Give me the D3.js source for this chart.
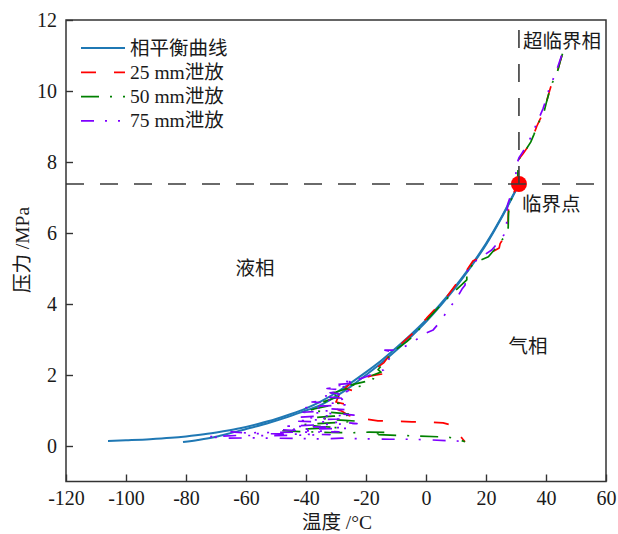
<!DOCTYPE html>
<html>
<head>
<meta charset="utf-8">
<script src="https://cdn.jsdelivr.net/npm/d3@7"></script>
<style>
  html, body { margin: 0; padding: 0; background: #fff; }
  svg { display: block; }
  text { fill: #1a1a1a; }
</style>
</head>
<body>
<svg id="chart" width="618" height="534"></svg>
<script>
// Axis ticks
const xTicks = [-120, -100, -80, -60, -40, -20, 0, 20, 40, 60];
const yTicks = [0, 2, 4, 6, 8, 10, 12];

// Legend entries
const legendLabels = ["相平衡曲线", "25 mm泄放", "50 mm泄放", "75 mm泄放"];

// CO2 critical point [°C, MPa]
const criticalPoint = [30.98, 7.38];

// Phase-equilibrium curves [temperature °C, pressure MPa]
const equilibriumA = [
  [-106, 0.14], [-100, 0.16], [-92, 0.19], [-85, 0.23], [-80, 0.27], [-74, 0.33],
  [-68, 0.41], [-62, 0.5], [-56, 0.62], [-50, 0.76], [-45, 0.9], [-40, 1.06],
  [-35, 1.26], [-30, 1.5], [-25, 1.78], [-20, 2.08], [-15, 2.4], [-10, 2.76],
  [-5, 3.14], [0, 3.55], [5, 4.02], [10, 4.52], [15, 5.08], [20, 5.7],
  [25, 6.42], [28, 6.9], [31, 7.38]
];
const equilibriumB = [
  [-81, 0.11], [-76, 0.17], [-70, 0.26], [-64, 0.39], [-58, 0.52], [-52, 0.66],
  [-46, 0.82], [-40, 1.0], [-36, 1.12], [-30, 1.4], [-25, 1.68], [-20, 2.0],
  [-15, 2.33], [-10, 2.69], [-5, 3.08], [0, 3.5], [5, 3.97], [10, 4.48],
  [15, 5.05], [20, 5.67], [25, 6.4], [28, 6.88], [31, 7.38]
];

// Measured release paths [temperature °C, pressure MPa]
const release25 = [
  [45.3, 11.0], [44.6, 10.8], [43.8, 10.55], [42.8, 10.3], [41.9, 10.2], [41, 9.95],
  [40, 9.65], [39.1, 9.37], [38, 9.2], [36.9, 9.0], [35.8, 8.75], [34.7, 8.53],
  [33.5, 8.37], [32.4, 8.24], [31.5, 8.14], [30.8, 8.06], [30.6, 7.87], [30.5, 7.6],
  [30.2, 7.4], [29.4, 7.15], [28.4, 6.95], [27.6, 6.8], [27.4, 6.5], [27.3, 6.1],
  [26.3, 5.92], [24.7, 5.7], [24.4, 5.58], [21, 5.42], [18, 5.3], [15.7, 5.22],
  [13, 4.88], [10.2, 4.58], [6.9, 4.2], [3, 3.85], [0.2, 3.6], [-4, 3.2],
  [-8, 2.9], [-12, 2.58], [-14, 2.35], [-16.4, 2.2], [-13, 2.05], [-18, 1.98],
  [-23, 1.86], [-25.3, 1.75], [-27, 1.62], [-24, 1.55], [-29, 1.42], [-30, 1.24],
  [-27, 1.18], [-31, 1.08], [-28, 0.98], [-26, 0.87], [-22.7, 0.79], [-16, 0.71],
  [-11, 0.7], [-4.7, 0.68], [0.3, 0.68], [5.7, 0.65], [8, 0.6], [9, 0.5],
  [10.3, 0.37], [12, 0.22], [13, 0.12]
];
const release50 = [
  [45.5, 11.05], [44.8, 10.85], [44, 10.6], [43, 10.35], [42.2, 10.25], [41.2, 10.0],
  [40.2, 9.7], [39.3, 9.4], [38.2, 9.22], [37.1, 9.02], [36, 8.78], [34.9, 8.56],
  [33.7, 8.4], [32.6, 8.27], [31.6, 8.16], [31, 8.08], [30.7, 7.9], [30.6, 7.62],
  [30.3, 7.42], [29.6, 7.2], [28.6, 6.98], [27.8, 6.82], [27.5, 6.55], [27.4, 6.15],
  [26.3, 5.94], [25, 5.75], [22, 5.45], [20.8, 5.33], [15.8, 5.15], [13.6, 4.87],
  [13.6, 4.68], [12, 4.55], [9, 4.32], [5, 3.98], [0, 3.52], [-4.2, 3.1],
  [-6.4, 2.94], [-10, 2.72], [-14, 2.35], [-16, 2.15], [-15, 2.08], [-17.6, 2.0],
  [-19.8, 1.95], [-17, 1.88], [-21, 1.8], [-25, 1.72], [-21, 1.7], [-27, 1.6],
  [-30, 1.52], [-33, 1.47], [-27.6, 1.4], [-31, 1.34], [-34, 1.25], [-29, 1.2],
  [-33, 1.12], [-37, 1.05], [-39, 1.0], [-33, 0.96], [-28, 0.92], [-24, 0.88],
  [-31, 0.84], [-37, 0.8], [-32, 0.75], [-27, 0.72], [-23, 0.7], [-30, 0.66],
  [-36, 0.63], [-41, 0.6], [-35, 0.55], [-29, 0.52], [-38, 0.49], [-44, 0.46],
  [-48, 0.43], [-40, 0.4], [-32, 0.38], [-25, 0.37], [-19, 0.39], [-13, 0.38],
  [-18, 0.33], [-10, 0.3], [-2, 0.28], [4, 0.26], [8, 0.24], [11, 0.18], [13, 0.12]
];
const release75 = [
  [45.2, 11.0], [44, 10.7], [43, 10.45], [41.9, 10.25], [41, 10.05], [40, 9.75],
  [39, 9.5], [38, 9.3], [37, 9.12], [36, 8.9], [35, 8.7], [34, 8.55],
  [33, 8.38], [32, 8.25], [31, 8.12], [30.3, 7.95], [30, 7.7], [29.8, 7.45],
  [29, 7.2], [28, 7.0], [27.2, 6.8], [27, 6.5], [26.8, 6.15], [26, 5.95],
  [24.7, 5.8], [21.9, 5.52], [16.9, 5.24], [13.5, 4.9], [13, 4.53], [12, 4.42],
  [10.2, 4.16], [6.9, 3.78], [4.7, 3.5], [2.4, 3.27], [-0.3, 3.17], [-4.2, 2.94],
  [-5.9, 2.85], [-9.8, 2.7], [-13.7, 2.7], [-11, 2.65], [-13, 2.35], [-14.2, 2.14],
  [-16, 2.1], [-20, 1.95], [-25, 1.8], [-28, 1.84], [-23, 1.78], [-31, 1.72],
  [-26, 1.68], [-33, 1.62], [-28, 1.58], [-24, 1.55], [-32, 1.5], [-27, 1.45],
  [-35, 1.4], [-30, 1.36], [-26, 1.33], [-34, 1.28], [-38, 1.24], [-30, 1.2],
  [-27, 1.16], [-36, 1.12], [-40, 1.08], [-32, 1.05], [-26, 1.02], [-35, 0.98],
  [-41, 0.95], [-33, 0.92], [-28, 0.9], [-24, 0.87], [-36, 0.84], [-42, 0.81],
  [-34, 0.78], [-29, 0.76], [-38, 0.73], [-44, 0.7], [-35, 0.68], [-27, 0.66],
  [-23, 0.63], [-33, 0.61], [-40, 0.58], [-46, 0.56], [-37, 0.54], [-30, 0.52],
  [-26, 0.5], [-38, 0.48], [-48, 0.46], [-42, 0.43], [-34, 0.42], [-29, 0.4],
  [-41, 0.39], [-52, 0.38], [-60, 0.37], [-65, 0.4], [-57, 0.35], [-47, 0.34],
  [-39, 0.33], [-32, 0.32], [-44, 0.3], [-55, 0.29], [-62, 0.3], [-70, 0.27],
  [-73, 0.26], [-66, 0.22], [-58, 0.23], [-50, 0.22], [-42, 0.21], [-35, 0.2],
  [-28, 0.22], [-20, 0.2], [-12, 0.19], [-5, 0.19], [2, 0.17], [7, 0.15],
  [13.6, 0.13]
];

const svg = d3.select("#chart");
const plotLeft = 66, plotRight = 606, plotTop = 20, plotBottom = 481.5;

const x = d3.scaleLinear().domain([-120, 60]).range([plotLeft, plotRight]);
const y = d3.scaleLinear().domain([-1, 12]).range([plotBottom, plotTop]);

const tickFont = "'Liberation Serif', 'Times New Roman', serif";
const labelFont = "'Liberation Serif', 'Noto Sans CJK SC', serif";

// Clip for plotted data
svg.append("defs").append("clipPath").attr("id", "plot-clip")
  .append("rect").attr("x", plotLeft).attr("y", plotTop)
  .attr("width", plotRight - plotLeft).attr("height", plotBottom - plotTop);

const plot = svg.append("g").attr("clip-path", "url(#plot-clip)");

// Phase-equilibrium curves
const smoothLine = d3.line().x(d => x(d[0])).y(d => y(d[1])).curve(d3.curveMonotoneX);
[equilibriumA, equilibriumB].forEach(data => {
  plot.append("path").datum(data)
    .attr("d", smoothLine)
    .attr("fill", "none").attr("stroke", "#1f78b4").attr("stroke-width", 2);
});

// Release paths
const seriesStyle = [
  { data: release25, color: "#ff0000", dash: "15,18" },
  { data: release50, color: "#008000", dash: "18,11,2,11" },
  { data: release75, color: "#7f00ff", dash: "13,11,2,11,2,12" }
];
const pathLine = d3.line().x(d => x(d[0])).y(d => y(d[1]));
seriesStyle.forEach(s => {
  plot.append("path").datum(s.data)
    .attr("d", pathLine)
    .attr("fill", "none").attr("stroke", s.color)
    .attr("stroke-width", 1.7).attr("stroke-dasharray", s.dash)
    .attr("stroke-linejoin", "round");
});

// Critical point marker
plot.append("circle")
  .attr("cx", x(criticalPoint[0])).attr("cy", y(criticalPoint[1]))
  .attr("r", 8).attr("fill", "#ff0000");

// Critical isobar and isotherm
const refStroke = "#3a3a3a";
plot.append("line")
  .attr("x1", x(-120)).attr("x2", x(60))
  .attr("y1", y(criticalPoint[1])).attr("y2", y(criticalPoint[1]))
  .attr("stroke", refStroke).attr("stroke-width", 1.6).attr("stroke-dasharray", "18,16");
plot.append("line")
  .attr("x1", x(criticalPoint[0])).attr("x2", x(criticalPoint[0]))
  .attr("y1", y(criticalPoint[1])).attr("y2", y(12))
  .attr("stroke", refStroke).attr("stroke-width", 1.6).attr("stroke-dasharray", "18,16");

// Axes
const xAxis = d3.axisBottom(x).tickValues(xTicks).tickFormat(d => String(d))
  .tickSizeInner(-7).tickSizeOuter(0).tickPadding(9);
const yAxis = d3.axisLeft(y).tickValues(yTicks).tickFormat(d => String(d))
  .tickSizeInner(-7).tickSizeOuter(0).tickPadding(9);

const gx = svg.append("g").attr("transform", `translate(0,${plotBottom})`).call(xAxis);
const gy = svg.append("g").attr("transform", `translate(${plotLeft},0)`).call(yAxis);
[gx, gy].forEach(g => {
  g.select(".domain").remove();
  g.selectAll(".tick line").attr("stroke", "#333").attr("stroke-width", 1.4);
  g.selectAll(".tick text").attr("font-family", tickFont).attr("font-size", 20).attr("fill", "#1a1a1a");
});

// Frame
svg.append("rect")
  .attr("x", plotLeft).attr("y", plotTop)
  .attr("width", plotRight - plotLeft).attr("height", plotBottom - plotTop)
  .attr("fill", "none").attr("stroke", "#333").attr("stroke-width", 1.5);

// Axis titles
svg.append("text").attr("x", 337).attr("y", 522).attr("text-anchor", "middle")
  .attr("dominant-baseline", "central")
  .attr("font-family", labelFont).attr("font-size", 19.5).text("温度 /°C");
svg.append("text").attr("transform", "translate(22,250) rotate(-90)")
  .attr("text-anchor", "middle").attr("dominant-baseline", "central")
  .attr("font-family", labelFont).attr("font-size", 19.5).text("压力 /MPa");

// Region labels
const notes = [
  { t: "液相", x: -57, y: 5.0, anchor: "middle" },
  { t: "气相", x: 34, y: 2.8, anchor: "middle" },
  { t: "临界点", x: 32, y: 6.8, anchor: "start" },
  { t: "超临界相", x: 32.3, y: 11.4, anchor: "start" }
];
notes.forEach(n => {
  svg.append("text").attr("x", x(n.x)).attr("y", y(n.y))
    .attr("text-anchor", n.anchor).attr("dominant-baseline", "central")
    .attr("font-family", labelFont).attr("font-size", 19.5).text(n.t);
});

// Legend
const legendStyle = [
  { color: "#1f78b4", dash: null, width: 2 },
  { color: "#ff0000", dash: "15,18", width: 1.7 },
  { color: "#008000", dash: "18,11,2,11", width: 1.7 },
  { color: "#7f00ff", dash: "13,11,2,11,2,12", width: 1.7 }
];
const legend = svg.append("g");
legendLabels.forEach((label, i) => {
  const ly = 48 + i * 24.3;
  const st = legendStyle[i];
  legend.append("line").attr("x1", 81).attr("x2", 125).attr("y1", ly).attr("y2", ly)
    .attr("stroke", st.color).attr("stroke-width", st.width)
    .attr("stroke-dasharray", st.dash);
  legend.append("text").attr("x", 130).attr("y", ly)
    .attr("dominant-baseline", "central")
    .attr("font-family", labelFont).attr("font-size", 19.5).text(label);
});
</script>
</body>
</html>
